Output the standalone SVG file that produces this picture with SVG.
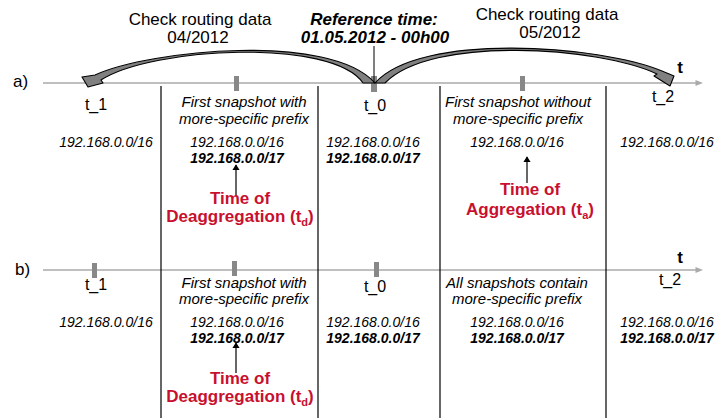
<svg xmlns="http://www.w3.org/2000/svg" width="720" height="418" viewBox="0 0 720 418">
<defs>
<style>
text{font-family:"Liberation Sans",Arial,sans-serif;fill:#000}
.lbl{font-size:17px}
.ref{font-size:17px;font-weight:bold;font-style:italic}
.tl{font-size:16px}
.ax{font-size:17px;font-weight:bold}
.note{font-size:15px;font-style:italic}
.ip{font-size:14px;font-style:italic}
.ipb{font-size:14px;font-style:italic;font-weight:bold}
.red{font-size:17px;font-weight:bold;fill:#c8102e}
.axis{stroke:#aaaaaa;stroke-width:1.5;fill:none}
.sep{stroke:#000;stroke-width:1.2}
.tick{fill:#888888}
.curve{fill:#808080;stroke:#000;stroke-width:1.1;stroke-linejoin:round}
.ptr{stroke:#000;stroke-width:1.2;marker-end:url(#ah)}
</style>
<marker id="ah" viewBox="0 0 8 10" refX="7" refY="5" markerWidth="6" markerHeight="8" markerUnits="userSpaceOnUse" orient="auto">
<path d="M0,0 L8,5 L0,10 Z" fill="#000"/>
</marker>
<marker id="axh" viewBox="0 0 10 8" refX="2" refY="4" markerWidth="9" markerHeight="6" markerUnits="userSpaceOnUse" orient="auto">
<path d="M0,0 L10,4 L0,8 Z" fill="#aaaaaa"/>
</marker>
</defs>

<g id="timelines">
<line class="axis" x1="43" y1="83" x2="697" y2="83" marker-end="url(#axh)"/>
<line class="axis" x1="43" y1="270" x2="697" y2="270" marker-end="url(#axh)"/>
<line class="sep" x1="161" y1="86" x2="161" y2="418"/>
<line class="sep" x1="318" y1="86" x2="318" y2="418"/>
<line class="sep" x1="440" y1="86" x2="440" y2="418"/>
<line class="sep" x1="606" y1="86" x2="606" y2="418"/>
<rect class="tick" x="234" y="76" width="5" height="15"/>
<rect class="tick" x="371" y="76" width="6" height="16"/>
<rect class="tick" x="520" y="76" width="5" height="15"/>
<rect class="tick" x="92" y="263" width="5" height="15"/>
<rect class="tick" x="232" y="261" width="5" height="15"/>
<rect class="tick" x="374" y="262" width="5" height="15"/>
<text class="lbl" x="13" y="87">a)</text>
<text class="lbl" x="15" y="275">b)</text>
<text class="ax" x="680" y="73" text-anchor="middle">t</text>
<text class="ax" x="680" y="263" text-anchor="middle">t</text>
</g>

<g id="connectors">
<path id="arrow-april" class="curve" d="M95,75 C150,50 330,32 375,83 L363,83 C332,38 152,47 101,80 L103,83 L88,87 L82,77 Z"/>
<path id="arrow-may" class="curve" d="M375,83 C420,32 600,45 662,71 L674,76 L670,86 L654,76 L657,74 C600,47 432,35 385,83 Z"/>
<line x1="374" y1="46" x2="374" y2="83" stroke="#000" stroke-width="1"/>
<line class="ptr" x1="236" y1="196" x2="236" y2="165"/>
<line class="ptr" x1="527" y1="183" x2="527" y2="157"/>
<line class="ptr" x1="236" y1="373" x2="236" y2="343"/>
</g>

<g id="header-april">
<text class="lbl" x="200" y="25" text-anchor="middle">Check routing data</text>
<text class="lbl" x="198" y="43" text-anchor="middle">04/2012</text>
</g>
<g id="header-reference">
<text class="ref" x="374" y="25" text-anchor="middle">Reference time:</text>
<text class="ref" x="375" y="43" text-anchor="middle">01.05.2012 - 00h00</text>
</g>
<g id="header-may">
<text class="lbl" x="547" y="20" text-anchor="middle">Check routing data</text>
<text class="lbl" x="550" y="38" text-anchor="middle">05/2012</text>
</g>

<g id="row-a">
<text class="tl" x="96" y="110" text-anchor="middle">t_1</text>
<text class="tl" x="375" y="111" text-anchor="middle">t_0</text>
<text class="tl" x="663" y="102" text-anchor="middle">t_2</text>
<text class="note" x="244" y="107" text-anchor="middle">First snapshot with</text>
<text class="note" x="244" y="124" text-anchor="middle">more-specific prefix</text>
<text class="note" x="518" y="107" text-anchor="middle">First snapshot without</text>
<text class="note" x="518" y="124" text-anchor="middle">more-specific prefix</text>
<text class="ip" x="106" y="147" text-anchor="middle">192.168.0.0/16</text>
<text class="ip" x="237" y="147" text-anchor="middle">192.168.0.0/16</text>
<text class="ipb" x="237" y="163" text-anchor="middle">192.168.0.0/17</text>
<text class="ip" x="373" y="147" text-anchor="middle">192.168.0.0/16</text>
<text class="ipb" x="373" y="163" text-anchor="middle">192.168.0.0/17</text>
<text class="ip" x="517" y="147" text-anchor="middle">192.168.0.0/16</text>
<text class="ip" x="667" y="147" text-anchor="middle">192.168.0.0/16</text>
<text class="red" x="240" y="204" text-anchor="middle">Time of</text>
<text class="red" x="240" y="222" text-anchor="middle">Deaggregation (t<tspan font-size="11" dy="4">d</tspan><tspan dy="-4">)</tspan></text>
<text class="red" x="530" y="195" text-anchor="middle">Time of</text>
<text class="red" x="530" y="215" text-anchor="middle">Aggregation (t<tspan font-size="11" dy="4">a</tspan><tspan dy="-4">)</tspan></text>
</g>

<g id="row-b">
<text class="tl" x="96" y="290" text-anchor="middle">t_1</text>
<text class="tl" x="375" y="292" text-anchor="middle">t_0</text>
<text class="tl" x="670" y="285" text-anchor="middle">t_2</text>
<text class="note" x="244" y="288" text-anchor="middle">First snapshot with</text>
<text class="note" x="244" y="304" text-anchor="middle">more-specific prefix</text>
<text class="note" x="517" y="288" text-anchor="middle">All snapshots contain</text>
<text class="note" x="517" y="304" text-anchor="middle">more-specific prefix</text>
<text class="ip" x="106" y="327" text-anchor="middle">192.168.0.0/16</text>
<text class="ip" x="237" y="327" text-anchor="middle">192.168.0.0/16</text>
<text class="ipb" x="237" y="343" text-anchor="middle">192.168.0.0/17</text>
<text class="ip" x="373" y="327" text-anchor="middle">192.168.0.0/16</text>
<text class="ipb" x="373" y="343" text-anchor="middle">192.168.0.0/17</text>
<text class="ip" x="517" y="327" text-anchor="middle">192.168.0.0/16</text>
<text class="ipb" x="517" y="343" text-anchor="middle">192.168.0.0/17</text>
<text class="ip" x="667" y="327" text-anchor="middle">192.168.0.0/16</text>
<text class="ipb" x="667" y="343" text-anchor="middle">192.168.0.0/17</text>
<text class="red" x="240" y="384" text-anchor="middle">Time of</text>
<text class="red" x="240" y="402" text-anchor="middle">Deaggregation (t<tspan font-size="11" dy="4">d</tspan><tspan dy="-4">)</tspan></text>
</g>
</svg>
